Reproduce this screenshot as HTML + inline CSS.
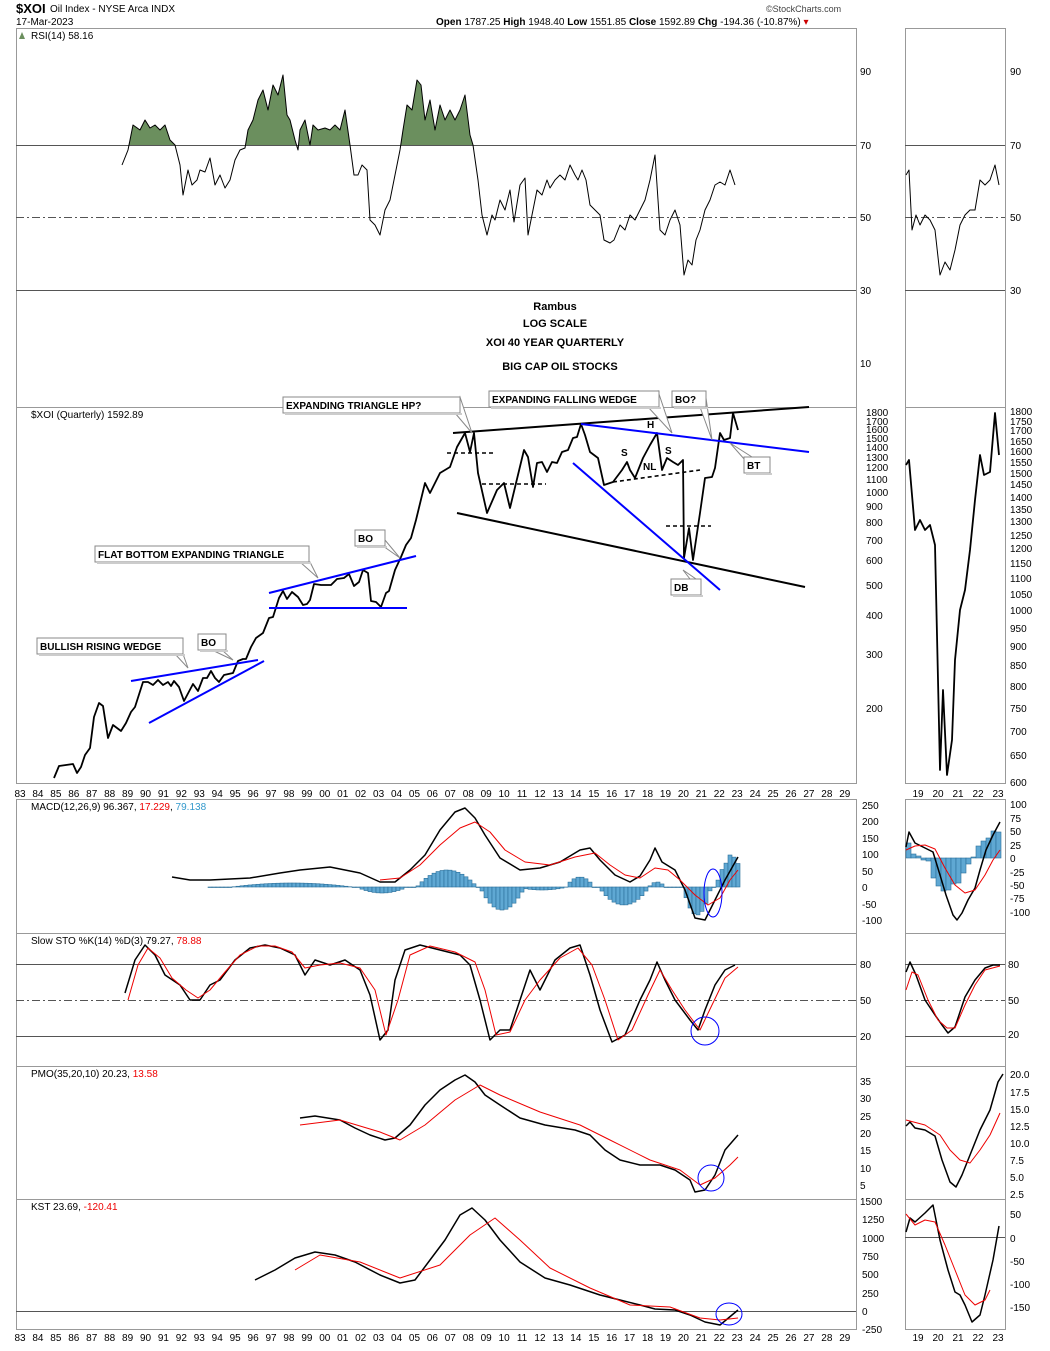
<!DOCTYPE html>
<html><head><meta charset="utf-8"><style>
body{margin:0;background:#fff}
svg text{font-family:"Liberation Sans",sans-serif;font-size:10px;fill:#000}
.b{font-weight:bold}
</style></head><body>
<svg id="s" width="1050" height="1346" xmlns="http://www.w3.org/2000/svg">
<rect width="1050" height="1346" fill="#fff"/>
<text x="16" y="13" style="font-size:13px" class="b">$XOI</text>
<text x="50" y="12">Oil Index - NYSE Arca INDX</text>
<text x="16" y="25">17-Mar-2023</text>
<text x="766" y="12" style="font-size:9px;fill:#444">©StockCharts.com</text>
<text x="436" y="25"><tspan class="b">Open</tspan> 1787.25 <tspan class="b">High</tspan> 1948.40 <tspan class="b">Low</tspan> 1551.85 <tspan class="b">Close</tspan> 1592.89 <tspan class="b">Chg</tspan> -194.36 (-10.87%) <tspan style="fill:#c00">▾</tspan></text>
<g fill="none" stroke="#999">
<rect x="16.5" y="28.5" width="840" height="755"/>
<rect x="905.5" y="28.5" width="100" height="755"/>
<rect x="16.5" y="799.5" width="840" height="530"/>
<rect x="905.5" y="799.5" width="100" height="530"/>
<line x1="16" y1="407.5" x2="856" y2="407.5"/><line x1="905" y1="407.5" x2="1005" y2="407.5"/>
<line x1="16" y1="933.5" x2="856" y2="933.5"/><line x1="905" y1="933.5" x2="1005" y2="933.5"/>
<line x1="16" y1="1066.5" x2="856" y2="1066.5"/><line x1="905" y1="1066.5" x2="1005" y2="1066.5"/>
<line x1="16" y1="1199.5" x2="856" y2="1199.5"/><line x1="905" y1="1199.5" x2="1005" y2="1199.5"/>
</g>
<g stroke="#555" stroke-width="1">
<line x1="16" y1="145.5" x2="856" y2="145.5"/><line x1="905" y1="145.5" x2="1005" y2="145.5"/>
<line x1="16" y1="290.5" x2="856" y2="290.5"/><line x1="905" y1="290.5" x2="1005" y2="290.5"/>
<line x1="16" y1="217.5" x2="856" y2="217.5" stroke-dasharray="8,3,2,3"/><line x1="905" y1="217.5" x2="1005" y2="217.5" stroke-dasharray="8,3,2,3"/>
<line x1="16" y1="964.5" x2="856" y2="964.5"/><line x1="905" y1="964.5" x2="1005" y2="964.5"/>
<line x1="16" y1="1036.5" x2="856" y2="1036.5"/><line x1="905" y1="1036.5" x2="1005" y2="1036.5"/>
<line x1="16" y1="1000.5" x2="856" y2="1000.5" stroke-dasharray="8,3,2,3"/><line x1="905" y1="1000.5" x2="1005" y2="1000.5" stroke-dasharray="8,3,2,3"/>
<line x1="16" y1="1311.5" x2="856" y2="1311.5"/><line x1="905" y1="1237.5" x2="1005" y2="1237.5"/>
</g>
<text x="31" y="39">RSI(14) 58.16</text>
<text x="31" y="418">$XOI (Quarterly) 1592.89</text>
<text x="31" y="810">MACD(12,26,9) 96.367, <tspan style="fill:#e00">17.229</tspan>, <tspan style="fill:#39c">79.138</tspan></text>
<text x="31" y="944">Slow STO %K(14) %D(3) 79.27, <tspan style="fill:#e00">78.88</tspan></text>
<text x="31" y="1077">PMO(35,20,10) 20.23, <tspan style="fill:#e00">13.58</tspan></text>
<text x="31" y="1210">KST 23.69, <tspan style="fill:#e00">-120.41</tspan></text>
<g class="b" text-anchor="middle" style="font-size:11px">
<text x="555" y="310" class="b" style="font-size:11px">Rambus</text>
<text x="555" y="327" class="b" style="font-size:11px">LOG SCALE</text>
<text x="555" y="346" class="b" style="font-size:11px">XOI 40 YEAR QUARTERLY</text>
<text x="560" y="370" class="b" style="font-size:11px">BIG CAP OIL STOCKS</text>
</g>
<g id="dyn"></g>
</svg>
<script>
var S='http://www.w3.org/2000/svg',g=document.getElementById('dyn');
function el(t,a,txt){var e=document.createElementNS(S,t);for(var k in a)e.setAttribute(k,a[k]);if(txt)e.textContent=txt;g.appendChild(e);return e;}
function pl(p,c,w,extra){var a={points:p,fill:'none',stroke:c,'stroke-width':w||1.5,'stroke-linejoin':'round'};for(var k in extra)a[k]=extra[k];return el('polyline',a);}
function tx(x,y,t,a){a=a||{};a.x=x;a.y=y;return el('text',a,t);}
function labs(x,arr,fs){arr.forEach(function(v){tx(x,v[1]+4,v[0],fs?{'font-size':fs}:{});});}
labs(860,[['90',71],['70',145],['50',217],['30',290],['10',363]]);
labs(1010,[['90',71],['70',145],['50',217],['30',290]]);
labs(866,[['1800',412],['1700',421],['1600',429],['1500',438],['1400',447],['1300',457],['1200',467],['1100',479],['1000',492],['900',506],['800',522],['700',540],['600',560],['500',585],['400',615],['300',654],['200',708]]);
var rp=[['1800',411],['1750',421],['1700',430],['1650',441],['1600',451],['1550',462],['1500',473],['1450',484],['1400',497],['1350',509],['1300',521],['1250',535],['1200',548],['1150',563],['1100',578],['1050',594],['1000',610],['950',628],['900',646],['850',665],['800',686],['750',708],['700',731],['650',755],['600',782]];
labs(1010,rp,'9.5px');
labs(862,[['250',805],['200',821],['150',838],['100',854],['50',871],['0',887],['-50',904],['-100',920]]);
labs(1010,[['100',804],['75',818],['50',831],['25',845],['0',858],['-25',872],['-50',885],['-75',898],['-100',912]]);
labs(860,[['80',964],['50',1000],['20',1036]]);labs(1008,[['80',964],['50',1000],['20',1034]]);
labs(860,[['35',1081],['30',1098],['25',1116],['20',1133],['15',1150],['10',1168],['5',1185],['1500',1201]]);
labs(1010,[['20.0',1074],['17.5',1092],['15.0',1109],['12.5',1126],['10.0',1143],['7.5',1160],['5.0',1177],['2.5',1194]]);
labs(862,[['1250',1219],['1000',1238],['750',1256],['500',1274],['250',1293],['0',1311],['-250',1329]]);
labs(1010,[['50',1214],['0',1238],['-50',1261],['-100',1284],['-150',1307]]);
for(var y=83;y<=129;y++){var x=20+(y-83)*17.93,l=('0'+(y%100)).slice(-2);tx(x,797,l,{'text-anchor':'middle'});tx(x,1341,l,{'text-anchor':'middle'});}
[19,20,21,22,23].forEach(function(v,i){tx(918+i*20,797,''+v,{'text-anchor':'middle'});tx(918+i*20,1341,''+v,{'text-anchor':'middle'});});
var rsi='122,165 128,150 133,125 140,130 145,120 150,128 155,125 160,130 165,125 170,140 175,145 180,165 183,195 188,170 192,185 197,180 200,170 205,172 210,158 215,185 220,175 225,188 230,180 235,160 240,150 245,148 248,130 253,120 258,100 263,90 268,110 273,85 278,95 283,75 287,115 290,120 295,140 298,150 300,130 305,120 310,145 313,125 318,130 325,128 330,130 335,125 340,130 345,110 350,145 354,175 358,175 362,165 367,170 370,220 375,225 380,235 385,210 390,200 395,175 400,150 403,130 407,105 412,110 417,80 421,85 425,120 430,100 435,130 440,105 445,120 450,110 455,120 460,110 465,95 470,135 473,145 478,180 482,215 487,235 492,215 495,220 500,200 505,210 510,190 514,222 520,185 525,178 528,235 533,210 537,190 542,195 547,180 550,188 555,180 560,175 565,180 570,165 575,175 578,180 582,170 586,180 590,205 595,210 600,215 604,240 610,243 614,240 620,225 625,230 630,215 635,220 640,210 645,200 650,180 655,155 660,230 665,235 670,220 675,210 680,225 684,275 688,260 692,265 696,240 700,230 705,210 710,200 715,185 720,182 725,185 730,170 735,185';
var cp=el('clipPath',{id:'c70'});var r=document.createElementNS(S,'rect');r.setAttribute('x',0);r.setAttribute('y',28);r.setAttribute('width',1050);r.setAttribute('height',117);cp.appendChild(r);
el('polygon',{points:'122,145 '+rsi+' 735,145',fill:'#6b8f5e',stroke:'none','clip-path':'url(#c70)'});
pl(rsi,'#000',1);
pl('906,175 909,170 912,230 916,215 920,225 925,215 930,220 935,230 940,275 945,262 950,270 955,250 960,225 965,215 970,210 975,210 980,180 985,185 990,180 995,165 999,185','#000',1);
var price='54,778 59,766 66,765 73,764 77,773 81,767 85,755 90,748 94,717 99,703 103,706 108,738 113,725 121,731 126,723 131,712 135,707 143,682 148,682 153,685 158,680 163,685 168,682 171,686 174,681 179,687 184,701 193,684 198,691 203,678 207,678 211,671 215,678 219,682 224,675 233,673 238,661 243,659 246,659 251,647 256,638 263,633 269,618 273,617 279,598 283,591 287,599 292,592 298,597 303,605 307,604 310,600 314,584 321,585 331,585 337,579 344,578 349,574 354,586 359,582 363,570 368,573 371,601 376,602 381,607 386,593 389,591 395,570 401,557 406,545 411,538 416,520 425,483 430,493 440,473 450,467 457,447 465,433 470,452 474,433 478,473 487,513 497,490 504,483 510,508 524,450 528,457 533,487 537,463 542,462 547,472 552,462 557,463 562,452 568,450 573,438 577,437 581,424 585,435 590,452 598,458 604,485 613,482 622,470 627,462 630,470 635,478 643,458 650,445 657,433 662,470 667,458 673,462 678,465 683,460 684,558 689,528 693,560 700,513 705,478 712,477 715,468 720,433 724,440 730,438 733,413 738,430';
pl(price,'#000',1.8);
pl('906,465 909,460 915,530 920,520 925,530 930,525 935,545 940,770 943,690 947,775 952,740 955,660 960,610 965,590 970,550 975,500 980,455 984,475 990,472 995,413 999,455','#000',1.8);
function ln(a,b,c,d,col,w,da){var o={x1:a,y1:b,x2:c,y2:d,stroke:col,'stroke-width':w||2};if(da)o['stroke-dasharray']=da;el('line',o);}
ln(131,681,258,660,'#00f');ln(149,723,264,661,'#00f');
ln(269,593,416,556,'#00f');ln(269,608,407,608,'#00f');
ln(453,433,809,407,'#000');ln(457,513,805,587,'#000');
ln(581,424,809,452,'#00f');ln(573,463,720,590,'#00f');
ln(447,453,496,453,'#000',1.6,'4,3');ln(482,484,546,484,'#000',1.6,'4,3');
ln(613,482,700,470,'#000',1.6,'4,3');ln(666,526,711,526,'#000',1.6,'4,3');
function box(x,y,w,t,col,tip){el('polygon',{points:tip,fill:'#fff',stroke:'#888'});el('rect',{x:x,y:y,width:w,height:16,fill:'#fff',stroke:'#888'});el('rect',{x:x+2,y:y+16,width:w,height:2,fill:'#ccc'});tx(x+3,y+12,t,{fill:col,'font-weight':'bold','font-size':'11px'});}
box(37,638,146,'BULLISH RISING WEDGE','#00f','175,654 188,668 183,654');
box(198,634,28,'BO','#00f','212,650 233,660 222,650');
box(95,546,214,'FLAT BOTTOM EXPANDING TRIANGLE','#00f','300,562 318,578 310,562');
box(355,530,30,'BO','#00f','383,546 400,558 385,540');
box(283,397,177,'EXPANDING TRIANGLE HP?','#000','455,413 472,433 460,397');
box(489,391,170,'EXPANDING FALLING WEDGE','#00f','648,407 672,433 658,391');
box(672,391,34,'BO?','#00f','700,407 712,440 706,398');
box(744,457,26,'BT','#00f','745,460 730,443 752,457');
box(671,579,30,'DB','#000','690,579 683,570 696,579');
tx(647,428,'H',{'font-weight':'bold','font-size':'11px'});
tx(621,456,'S',{'font-weight':'bold','font-size':'11px'});
tx(665,454,'S',{'font-weight':'bold','font-size':'11px'});
tx(643,470,'NL',{'font-weight':'bold','font-size':'11px'});
function hist(x0,x1,step,f,zero){for(var x=x0;x<=x1;x+=step){var v=f(x);el('rect',{x:x,y:Math.min(v,zero),width:step,height:Math.abs(v-zero)||0.5,fill:'#5fa8d3',stroke:'#2a6f9a','stroke-width':0.6});}}
function bump(x,c,w,h){var d=(x-c)/w;return Math.abs(d)<1?h*(1-d*d):0;}
hist(208,736,4,function(x){return 887-bump(x,290,60,4)-bump(x,445,30,17)+bump(x,380,25,6)+bump(x,500,22,23)+bump(x,540,25,3)-bump(x,578,14,10)+bump(x,622,25,18)-bump(x,655,8,5)+bump(x,695,14,28)-bump(x,728,14,26)-(x>724?6:0);},887);
pl('172,877 190,880 210,880 250,878 280,873 300,870 330,867 360,873 380,882 395,882 410,870 425,855 440,830 455,812 465,808 475,818 485,835 500,858 520,870 540,868 560,862 580,850 590,848 600,860 615,875 630,882 640,876 650,860 655,848 662,862 675,870 685,890 695,918 705,920 715,900 725,880 738,857','#000',1.5);
pl('380,880 400,878 420,865 440,845 460,828 475,822 490,832 505,850 525,862 550,865 575,857 595,853 610,865 625,875 640,878 655,868 668,870 680,880 695,895 708,905 720,898 730,880 738,870','#e00',1);
var mh=[15,4,2,-2,-3,-20,-28,-33,-32,-26,-25,-15,-6,1,12,17,20,27,26];
mh.forEach(function(h,i){var x=906+i*5;el('rect',{x:x,y:h>0?858-h:858,width:5,height:Math.abs(h)||0.5,fill:'#5fa8d3',stroke:'#2a6f9a','stroke-width':0.6});});
pl('906,847 909,832 915,843 925,848 933,852 940,875 946,895 953,915 957,920 962,913 968,900 975,888 980,870 986,850 993,835 1000,822','#000',1.5);
pl('906,850 915,846 925,845 935,849 945,868 955,885 965,893 975,890 985,875 993,860 1000,850','#e00',1);
pl('125,993 135,960 145,945 155,955 165,975 180,985 190,1000 200,1000 210,985 220,980 235,960 250,948 265,945 280,948 295,955 305,975 315,960 330,965 345,960 360,970 370,995 380,1040 388,1030 395,980 405,950 420,945 440,950 460,955 470,965 480,1000 490,1040 500,1030 510,1030 520,1000 530,970 540,990 555,960 570,948 580,945 590,975 600,1010 612,1042 625,1035 640,1000 650,980 657,962 665,980 675,1000 690,1020 698,1030 705,1010 715,985 725,970 735,965','#000',1.5);
pl('128,1000 138,965 148,948 160,958 172,978 186,990 198,998 210,990 225,972 240,955 258,946 275,946 292,952 305,968 320,965 340,963 360,968 375,990 386,1035 398,1000 410,955 430,946 455,952 475,962 485,990 496,1035 510,1032 525,1000 540,980 560,958 578,948 592,965 605,1000 618,1040 632,1030 648,995 660,970 672,990 685,1010 700,1030 712,1005 725,978 738,967','#e00',1);
pl('906,972 910,962 916,975 925,1000 935,1015 942,1025 948,1033 955,1027 960,1012 965,997 975,980 985,968 993,965 1000,965','#000',1.5);
pl('906,990 912,972 918,975 928,1000 938,1020 947,1028 955,1028 965,1005 975,985 985,970 1000,966','#e00',1);
pl('300,1118 315,1116 340,1120 355,1128 370,1135 385,1140 395,1138 410,1125 425,1105 440,1090 455,1080 465,1075 475,1082 485,1095 500,1105 520,1118 545,1125 575,1130 590,1135 605,1150 620,1160 640,1165 660,1165 675,1170 690,1180 695,1192 705,1190 715,1175 725,1150 738,1135','#000',1.5);
pl('300,1125 340,1120 380,1132 400,1140 425,1125 455,1100 480,1085 500,1095 540,1112 580,1125 610,1140 650,1160 680,1170 700,1185 715,1178 730,1165 738,1157','#e00',1);
pl('906,1126 910,1122 915,1128 925,1130 935,1136 942,1160 950,1182 956,1187 962,1175 970,1155 980,1130 990,1110 998,1082 1003,1074','#000',1.5);
pl('906,1120 925,1125 940,1135 950,1150 960,1160 970,1163 980,1150 990,1135 1000,1113','#e00',1);
pl('255,1280 275,1270 295,1258 315,1252 335,1255 355,1262 380,1275 400,1283 415,1280 430,1260 445,1240 460,1215 472,1208 485,1220 500,1240 520,1262 545,1278 570,1285 600,1295 620,1300 640,1305 655,1309 675,1310 690,1315 705,1322 720,1325 738,1310','#000',1.5);
pl('295,1270 320,1255 360,1262 400,1278 440,1265 470,1235 495,1218 520,1240 550,1268 590,1288 630,1305 670,1307 700,1318 720,1320 738,1318','#e00',1);
pl('906,1232 910,1218 915,1222 925,1213 933,1205 940,1240 948,1270 955,1292 960,1295 965,1305 972,1322 980,1315 985,1295 993,1260 999,1226','#000',1.5);
pl('906,1214 915,1225 925,1220 935,1222 945,1245 955,1270 965,1295 975,1305 985,1300 990,1290','#e00',1);
el('ellipse',{cx:713,cy:893,rx:9,ry:24,fill:'none',stroke:'#00f','stroke-width':1});
el('circle',{cx:705,cy:1031,r:14,fill:'none',stroke:'#00f','stroke-width':1});
el('circle',{cx:711,cy:1178,r:13,fill:'none',stroke:'#00f','stroke-width':1});
el('ellipse',{cx:729,cy:1314,rx:13,ry:11,fill:'none',stroke:'#00f','stroke-width':1});
el('polygon',{points:'19,39 22,32 25,39',fill:'#6b8f5e'});
</script>
</body></html>
